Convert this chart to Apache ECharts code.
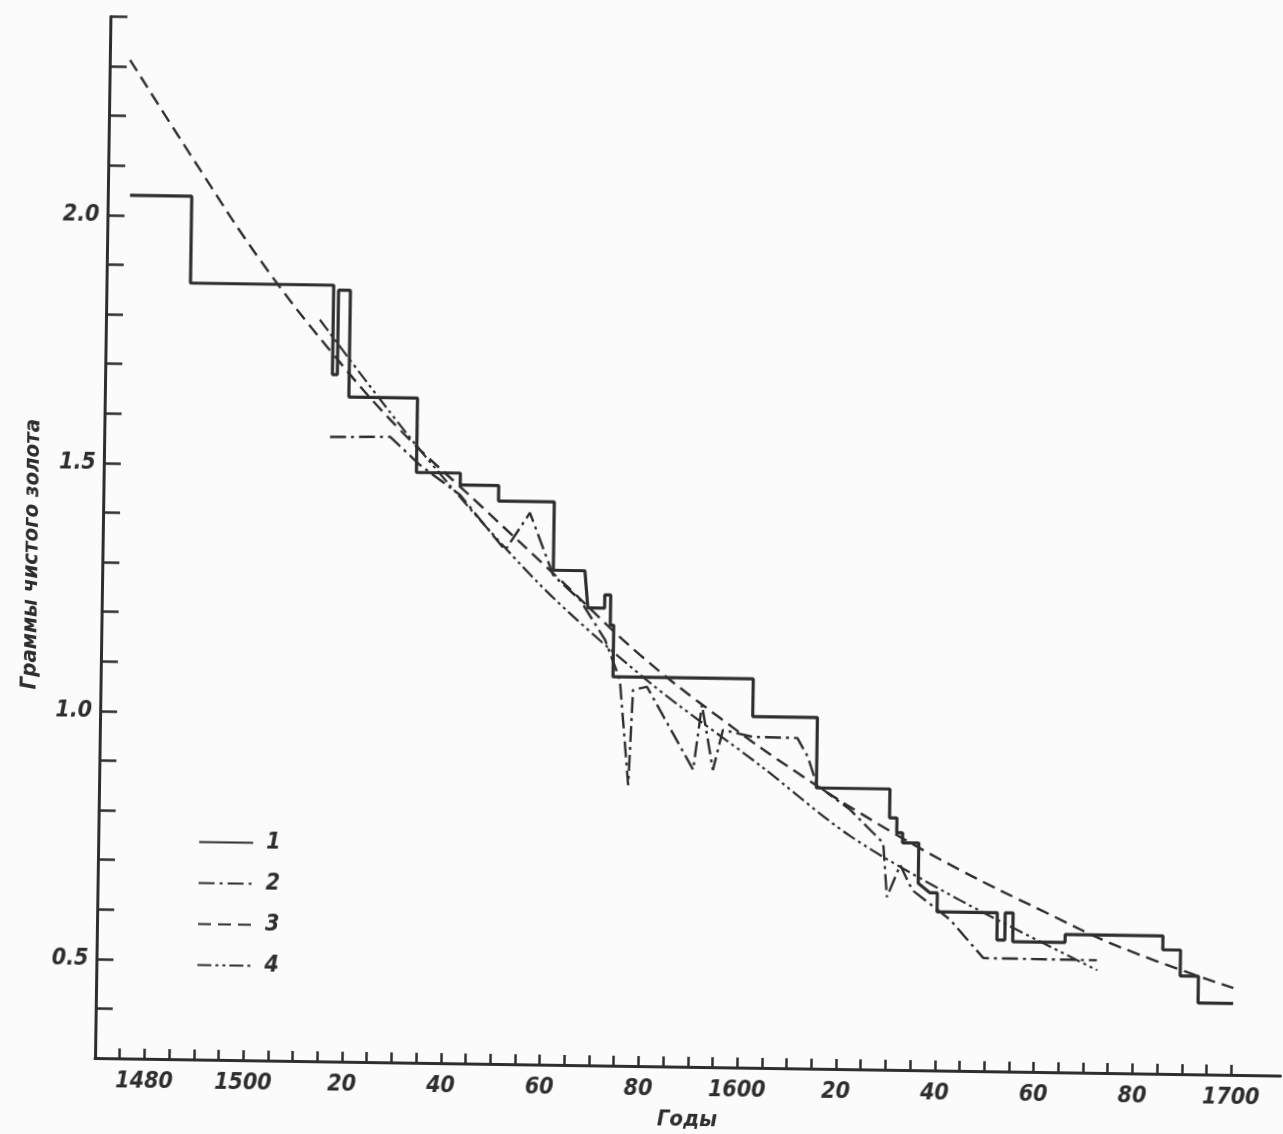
<!DOCTYPE html>
<html>
<head>
<meta charset="utf-8">
<script src="https://cdn.jsdelivr.net/npm/echarts@6/dist/echarts.min.js"></script>
<style>
  html, body { margin: 0; padding: 0; background: #fbfbfb; overflow: hidden; }
  #chart { width: 1283px; height: 1134px; transform: rotate(0.85deg); transform-origin: 95px 1058px; }
</style>
</head>
<body>
<div id="chart"></div>
<script>
// ---- data (years, grams of pure gold) ----
const xTickYears = [1475,1480,1485,1490,1495,1500,1505,1510,1515,1520,1525,1530,1535,1540,1545,1550,1555,1560,1565,1570,1575,1580,1585,1590,1595,1600,1605,1610,1615,1620,1625,1630,1635,1640,1645,1650,1655,1660,1665,1670,1675,1680,1685,1690,1695,1700];
const xLabelYears = [1480,1500,1520,1540,1560,1580,1600,1620,1640,1660,1680,1700];
const yTickValues = [0.4,0.5,0.6,0.7,0.8,0.9,1.0,1.1,1.2,1.3,1.4,1.5,1.6,1.7,1.8,1.9,2.0,2.1,2.2,2.3,2.4];
const yLabelValues = [0.5,1.0,1.5,2.0];
const legendNames = ['1','2','3','4'];

// series 1 (solid, stepped)
const years1 = [1474.5,1487.0,1487.0,1516.0,1516.0,1517.0,1517.0,1519.4,1519.4,1533.3,1533.3,1542.2,1542.2,1550.0,1550.0,1561.3,1561.3,1567.7,1568.4,1571.8,1571.8,1573.0,1573.0,1573.7,1573.7,1602.1,1602.1,1615.2,1615.2,1630.1,1630.1,1631.6,1631.6,1632.8,1632.8,1636.1,1636.1,1638.5,1640.0,1640.0,1652.2,1652.2,1653.8,1653.8,1655.4,1655.4,1666.0,1666.0,1685.8,1685.8,1689.4,1689.4,1693.1,1693.1,1700.2];
const vals1  = [2.04,2.04,1.865,1.865,1.685,1.685,1.855,1.855,1.64,1.64,1.49,1.49,1.466,1.466,1.435,1.435,1.297,1.297,1.222,1.222,1.249,1.249,1.188,1.188,1.084,1.084,1.008,1.008,0.866,0.866,0.808,0.808,0.778,0.778,0.758,0.758,0.677,0.658,0.658,0.62,0.62,0.565,0.565,0.62,0.62,0.562,0.562,0.578,0.578,0.55,0.55,0.498,0.498,0.444,0.444];

// series 2 (dash-dot)
const years2 = [1515.7,1527.9,1534.0,1542.2,1551.5,1556.4,1561.3,1566.8,1572.0,1575.1,1577.1,1577.8,1580.6,1590.2,1591.8,1594.2,1596.1,1602.2,1611.2,1613.4,1615.3,1622.1,1628.9,1629.8,1632.4,1634.9,1642.7,1649.5,1672.5];
const vals2  = [1.559,1.561,1.505,1.446,1.336,1.412,1.287,1.238,1.158,1.078,0.866,1.058,1.065,0.899,1.030,0.899,0.980,0.967,0.966,0.928,0.872,0.823,0.757,0.648,0.713,0.663,0.604,0.528,0.527];

// series 3 (dashed, smooth trend)
const years3 = [1474.1,1488.6,1501.0,1515.4,1529.9,1546.3,1562.7,1579.1,1595.5,1611.9,1628.2,1644.5,1660.9,1677.2,1700.2];
const vals3  = [2.313,2.094,1.914,1.734,1.575,1.426,1.278,1.129,1.004,0.892,0.793,0.705,0.627,0.554,0.475];

// series 4 (dash-dot-dot)
const years4 = [1513.3,1534.0,1558.7,1581.2,1603.7,1622.2,1644.6,1672.6];
const vals4  = [1.795,1.535,1.267,1.073,0.910,0.770,0.644,0.507];

const zip = (xs, ys) => xs.map((x, i) => [x, ys[i]]);

const ink = '#2e2e2e';
const labelFont = "'Liberation Sans Narrow', 'DejaVu Sans Condensed', 'DejaVu Sans', sans-serif";

const chart = echarts.init(document.getElementById('chart'), null, { renderer: 'canvas' });
chart.setOption({
  animation: false,
  backgroundColor: 'transparent',
  grid: { left: 95, right: 2.4, top: 16.4, bottom: 76 },
  legend: {
    left: 190, top: 824, orient: 'vertical',
    itemWidth: 54, itemHeight: 22, itemGap: 18,
    data: legendNames,
    itemStyle: { opacity: 0 },
    textStyle: { color: ink, fontSize: 23, fontStyle: 'italic', fontWeight: 'bold', fontFamily: labelFont, padding: [0, 0, 0, 8] }
  },
  xAxis: {
    type: 'value', min: 1470, max: 1710,
    name: 'Годы', nameLocation: 'middle', nameGap: 42,
    nameTextStyle: { color: ink, fontSize: 22, fontStyle: 'italic', fontWeight: 'bold', fontFamily: labelFont },
    splitLine: { show: false },
    axisLine: { show: true, lineStyle: { color: ink, width: 3 } },
    axisTick: { show: true, inside: true, length: 10, customValues: xTickYears, lineStyle: { color: ink, width: 2.5 } },
    axisLabel: {
      customValues: xLabelYears, margin: 12, color: ink, fontSize: 23, fontStyle: 'italic', fontWeight: 'bold', fontFamily: labelFont,
      formatter: v => (v % 100 === 0 || v === 1480) ? String(v) : String(v % 100)
    }
  },
  yAxis: {
    type: 'value', min: 0.3, max: 2.4,
    name: 'Граммы чистого золота', nameLocation: 'middle', nameRotate: 90, nameGap: 60,
    nameTextStyle: { color: ink, fontSize: 22, fontStyle: 'italic', fontWeight: 'bold', fontFamily: labelFont, padding: [0, 36, 0, 0] },
    splitLine: { show: false },
    axisLine: { show: true, lineStyle: { color: ink, width: 3 } },
    axisTick: { show: true, inside: true, length: 17, customValues: yTickValues, lineStyle: { color: ink, width: 2.5 } },
    axisLabel: {
      customValues: yLabelValues, margin: 8, color: ink, fontSize: 23, fontStyle: 'italic', fontWeight: 'bold', fontFamily: labelFont,
      formatter: v => v.toFixed(1)
    }
  },
  series: [
    { name: '1', type: 'line', symbol: 'none', data: zip(years1, vals1), lineStyle: { color: ink, width: 3.2, type: 'solid' }, itemStyle: { color: ink }, z: 5 },
    { name: '2', type: 'line', symbol: 'none', data: zip(years2, vals2), lineStyle: { color: ink, width: 2.4, type: [16, 5, 3, 5] }, itemStyle: { color: ink } },
    { name: '3', type: 'line', symbol: 'none', smooth: 0.4, data: zip(years3, vals3), lineStyle: { color: ink, width: 2.4, type: [13, 7] }, itemStyle: { color: ink } },
    { name: '4', type: 'line', symbol: 'none', smooth: 0.3, data: zip(years4, vals4), lineStyle: { color: ink, width: 2.2, type: [14, 4, 3, 4, 3, 4] }, itemStyle: { color: ink } }
  ]
});
</script>
</body>
</html>
